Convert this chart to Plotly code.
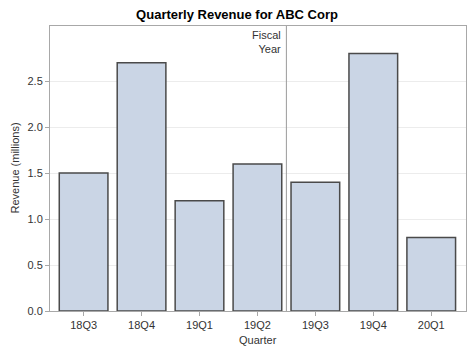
import plotly.graph_objects as go

quarters = ["18Q3", "18Q4", "19Q1", "19Q2", "19Q3", "19Q4", "20Q1"]
revenue = [1.5, 2.7, 1.2, 1.6, 1.4, 2.8, 0.8]
y_ticks = [0.0, 0.5, 1.0, 1.5, 2.0, 2.5]
y_tick_labels = ["0.0", "0.5", "1.0", "1.5", "2.0", "2.5"]
fiscal_boundary = 3.5

fig = go.Figure()
fig.add_trace(go.Bar(
    x=list(range(len(quarters))), y=revenue,
    width=0.84,
    marker=dict(color="#CAD5E5", line=dict(color="#4a4a4a", width=1.5)),
    hoverinfo="x+y",
))

fig.add_shape(type="line", xref="x", yref="paper", x0=fiscal_boundary, x1=fiscal_boundary,
              y0=0, y1=1, line=dict(color="#9a9a9a", width=1))
fig.add_annotation(xref="x", yref="paper", x=fiscal_boundary, y=1, text="Fiscal<br>Year",
                   showarrow=False, xanchor="right", yanchor="top", align="right",
                   xshift=-3, yshift=-1, font=dict(size=11, color="#333333"))
fig.add_annotation(xref="paper", yref="paper", x=0.5, y=0, yshift=-21, text="Quarter",
                   showarrow=False, xanchor="center", yanchor="top",
                   font=dict(size=11, color="#333333"))
fig.add_annotation(xref="paper", yref="paper", x=0, y=0.5, xshift=-36, text="Revenue (millions)",
                   showarrow=False, xanchor="center", yanchor="middle", textangle=-90,
                   font=dict(size=11, color="#333333"))

fig.update_layout(
    width=474, height=355,
    margin=dict(l=50, r=8, t=26, b=44, autoexpand=False),
    paper_bgcolor="white", plot_bgcolor="white",
    font=dict(family="Liberation Sans, Arial, sans-serif", size=11, color="#333333"),
    title=dict(text="<b>Quarterly Revenue for ABC Corp</b>", x=0.5, xanchor="center",
               y=1 - 14 / 355, yanchor="middle", font=dict(size=13, color="black"),
               automargin=False),
    showlegend=False,
)
fig.update_xaxes(
    range=[-0.58, 6.6], tickmode="array", tickvals=list(range(len(quarters))), ticktext=quarters,
    showgrid=False, showline=True, linecolor="#a8a8a8", linewidth=1, mirror=True,
    ticks="outside", ticklen=4, tickcolor="#a8a8a8",
    automargin=False, zeroline=False,
)
fig.update_yaxes(
    range=[0, 3.1], tickmode="array", tickvals=y_ticks, ticktext=y_tick_labels,
    showgrid=True, gridcolor="#ececec", gridwidth=1,
    showline=True, linecolor="#a8a8a8", linewidth=1, mirror=True,
    ticks="outside", ticklen=4, tickcolor="#a8a8a8",
    automargin=False, zeroline=False,
)

fig.write_html("out.html", config={"displayModeBar": False},
               post_script="document.body.style.margin='0';document.body.style.overflow='hidden';")
